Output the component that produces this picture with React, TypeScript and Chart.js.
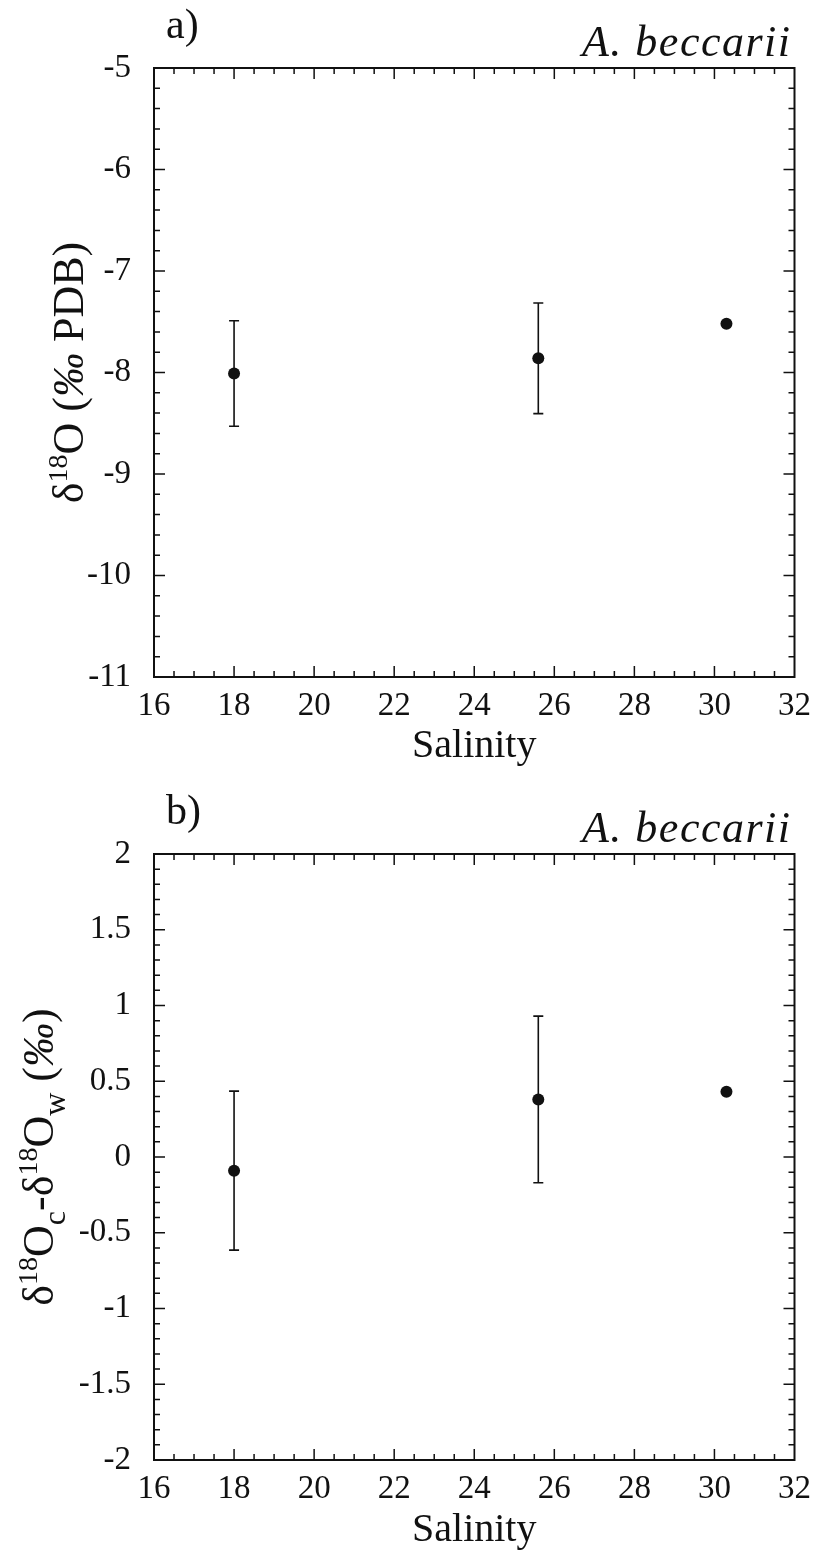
import React, { useEffect, useRef } from "react";
import { Chart, registerables } from "chart.js";

Chart.register(...registerables);

// ---- data ----
const salinity = [18, 25.6, 30.3];
const d18O = [-8.01, -7.86, -7.52];
const d18OErr = [0.52, 0.545, 0];
const dDiff = [-0.09, 0.38, 0.43];
const dDiffErr = [0.525, 0.55, 0];

const xMin = 16;
const xMax = 32;
const xStep = 2;
const xMinor = 0.5;

const aMin = -11;
const aMax = -5;
const aStep = 1;
const aMinor = 0.2;

const bMin = -2;
const bMax = 2;
const bStep = 0.5;
const bMinor = 0.1;

const panelLabels = ["a)", "b)"];
const speciesName = "A. beccarii";
const xTitle = "Salinity";

const SERIF = '"Liberation Serif", "Times New Roman", serif';

type Seg = { t: string; s: number; dy: number; it?: boolean };

const titleA: Seg[] = [
  { t: "δ", s: 44, dy: 0 },
  { t: "18", s: 28, dy: -16 },
  { t: "O (", s: 44, dy: 0 },
  { t: "‰", s: 44, dy: 0, it: true },
  { t: " PDB)", s: 44, dy: 0 },
];

const titleB: Seg[] = [
  { t: "δ", s: 44, dy: 0 },
  { t: "18", s: 28, dy: -16 },
  { t: "O", s: 44, dy: 0 },
  { t: "c", s: 32, dy: 12 },
  { t: "-δ", s: 44, dy: 0 },
  { t: "18", s: 28, dy: -16 },
  { t: "O", s: 44, dy: 0 },
  { t: "w", s: 32, dy: 12 },
  { t: " (", s: 44, dy: 0 },
  { t: "‰", s: 44, dy: 0, it: true },
  { t: ")", s: 44, dy: 0 },
];

function drawRich(ctx: CanvasRenderingContext2D, segs: Seg[], cx: number, cy: number) {
  ctx.save();
  ctx.translate(cx, cy);
  ctx.rotate(-Math.PI / 2);
  ctx.textBaseline = "alphabetic";
  ctx.textAlign = "left";
  ctx.fillStyle = "#111";
  let total = 0;
  const widths = segs.map((g) => {
    ctx.font = `${g.it ? "italic " : ""}${g.s}px ${SERIF}`;
    const w = ctx.measureText(g.t).width;
    total += w;
    return w;
  });
  let x = -total / 2;
  segs.forEach((g, i) => {
    ctx.font = `${g.it ? "italic " : ""}${g.s}px ${SERIF}`;
    ctx.fillText(g.t, x, g.dy);
    x += widths[i];
  });
  ctx.restore();
}

function isMultiple(v: number, step: number) {
  const r = v / step;
  return Math.abs(r - Math.round(r)) < 1e-6;
}

interface PanelSpec {
  label: string;
  xs: number[];
  ys: number[];
  errs: number[];
  yMin: number;
  yMax: number;
  yStep: number;
  yMinor: number;
  height: number;
  padTop: number;
  xAxisHeight: number;
  titlePadBottom: number;
  xTickPad: number;
  yTitle: Seg[];
  yTitleX: number;
}

function makePlugin(spec: PanelSpec) {
  return {
    id: "frameAndBars",
    beforeDatasetsDraw(chart: any) {
      const ctx: CanvasRenderingContext2D = chart.ctx;
      const xs = chart.scales.x;
      const ys = chart.scales.y;
      ctx.save();
      ctx.strokeStyle = "#111";
      ctx.lineWidth = 1.6;
      spec.xs.forEach((xv, i) => {
        const e = spec.errs[i];
        if (!e) return;
        const px = xs.getPixelForValue(xv);
        const top = ys.getPixelForValue(spec.ys[i] + e);
        const bot = ys.getPixelForValue(spec.ys[i] - e);
        ctx.beginPath();
        ctx.moveTo(px, top);
        ctx.lineTo(px, bot);
        ctx.moveTo(px - 5, top);
        ctx.lineTo(px + 5, top);
        ctx.moveTo(px - 5, bot);
        ctx.lineTo(px + 5, bot);
        ctx.stroke();
      });
      ctx.restore();
    },
    afterDraw(chart: any) {
      const ctx: CanvasRenderingContext2D = chart.ctx;
      const { left, right, top, bottom } = chart.chartArea;
      const xs = chart.scales.x;
      const ys = chart.scales.y;
      ctx.save();
      ctx.strokeStyle = "#111";
      ctx.lineWidth = 2;
      ctx.strokeRect(left, top, right - left, bottom - top);
      ctx.lineWidth = 1.5;
      ctx.beginPath();
      const nx = Math.round((xMax - xMin) / xMinor);
      for (let i = 1; i < nx; i++) {
        const v = xMin + i * xMinor;
        const p = xs.getPixelForValue(v);
        const len = isMultiple(v, xStep) ? 11 : 6;
        ctx.moveTo(p, bottom);
        ctx.lineTo(p, bottom - len);
        ctx.moveTo(p, top);
        ctx.lineTo(p, top + len);
      }
      const ny = Math.round((spec.yMax - spec.yMin) / spec.yMinor);
      for (let i = 1; i < ny; i++) {
        const v = spec.yMin + i * spec.yMinor;
        const p = ys.getPixelForValue(v);
        const len = isMultiple(v - spec.yMin, spec.yStep) ? 11 : 6;
        ctx.moveTo(left, p);
        ctx.lineTo(left + len, p);
        ctx.moveTo(right, p);
        ctx.lineTo(right - len, p);
      }
      ctx.stroke();

      // panel label
      ctx.fillStyle = "#111";
      ctx.textBaseline = "alphabetic";
      ctx.textAlign = "left";
      ctx.font = `42px ${SERIF}`;
      ctx.fillText(spec.label, 166, top - 30);

      // species name (right aligned)
      ctx.font = `italic 44px ${SERIF}`;
      const w = ctx.measureText(speciesName).width;
      const target = 208;
      const gap = Math.max(0, (target - w) / (speciesName.length - 1));
      let xCursor = 790 - Math.max(w, target);
      for (const ch of speciesName) {
        ctx.fillText(ch, xCursor, top - 12);
        xCursor += ctx.measureText(ch).width + gap;
      }

      // y title
      drawRich(ctx, spec.yTitle, spec.yTitleX, (top + bottom) / 2);
      ctx.restore();
    },
  };
}

const fmt = (v: number | string) => String(Number(Number(v).toFixed(2)));

function makeConfig(spec: PanelSpec): any {
  return {
    type: "scatter",
    data: {
      datasets: [
        {
          data: spec.xs.map((x, i) => ({ x, y: spec.ys[i] })),
          pointRadius: 6,
          pointHoverRadius: 6,
          pointBackgroundColor: "#111",
          pointBorderColor: "#111",
          pointBorderWidth: 0,
          showLine: false,
        },
      ],
    },
    options: {
      responsive: false,
      animation: false,
      devicePixelRatio: 1,
      layout: { padding: { top: spec.padTop, right: 17, left: 0, bottom: 0 } },
      plugins: { legend: { display: false }, tooltip: { enabled: false } },
      scales: {
        x: {
          type: "linear",
          min: xMin,
          max: xMax,
          afterFit: (s: any) => {
            s.height = spec.xAxisHeight;
          },
          grid: { display: false },
          border: { display: false },
          ticks: {
            stepSize: xStep,
            color: "#111",
            font: { family: SERIF, size: 33 },
            padding: spec.xTickPad,
            maxRotation: 0,
            autoSkip: false,
            callback: (v: any) => fmt(v),
          },
          title: {
            display: true,
            text: xTitle,
            color: "#111",
            font: { family: SERIF, size: 40 },
            padding: { top: 0, bottom: spec.titlePadBottom },
          },
        },
        y: {
          type: "linear",
          min: spec.yMin,
          max: spec.yMax,
          afterFit: (s: any) => {
            s.width = 154;
          },
          grid: { display: false },
          border: { display: false },
          ticks: {
            stepSize: spec.yStep,
            color: "#111",
            font: { family: SERIF, size: 33 },
            padding: 15,
            autoSkip: false,
            callback: (v: any) => fmt(v),
          },
        },
      },
    },
    plugins: [makePlugin(spec)],
  };
}

const specA: PanelSpec = {
  label: panelLabels[0],
  xs: salinity,
  ys: d18O,
  errs: d18OErr,
  yMin: aMin,
  yMax: aMax,
  yStep: aStep,
  yMinor: aMinor,
  height: 777,
  padTop: 68,
  xAxisHeight: 100,
  titlePadBottom: 7,
  xTickPad: 2,
  yTitle: titleA,
  yTitleX: 83,
};

const specB: PanelSpec = {
  label: panelLabels[1],
  xs: salinity,
  ys: dDiff,
  errs: dDiffErr,
  yMin: bMin,
  yMax: bMax,
  yStep: bStep,
  yMinor: bMinor,
  height: 778,
  padTop: 77,
  xAxisHeight: 95,
  titlePadBottom: 1,
  xTickPad: 2,
  yTitle: titleB,
  yTitleX: 53,
};

function Panel({ spec }: { spec: PanelSpec }) {
  const ref = useRef<HTMLCanvasElement | null>(null);
  useEffect(() => {
    if (!ref.current) return;
    const chart = new Chart(ref.current, makeConfig(spec));
    return () => chart.destroy();
  }, [spec]);
  return (
    <canvas
      ref={ref}
      width={813}
      height={spec.height}
      style={{ display: "block", width: 813, height: spec.height }}
    />
  );
}

export default function App() {
  return (
    <div
      style={{
        position: "absolute",
        top: 0,
        left: 0,
        width: 813,
        height: 1555,
        background: "#fff",
      }}
    >
      <Panel spec={specA} />
      <Panel spec={specB} />
    </div>
  );
}
